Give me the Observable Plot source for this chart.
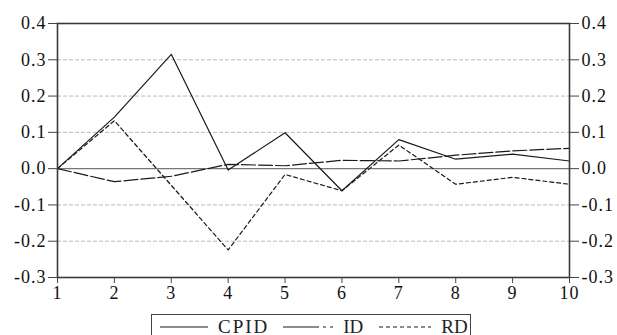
<!DOCTYPE html>
<html>
<head>
<meta charset="utf-8">
<script src="https://cdn.jsdelivr.net/npm/d3@7"></script>
<script src="https://cdn.jsdelivr.net/npm/@observablehq/plot@0.6"></script>
<style>
  body { margin: 0; background: #fff; font-family: "Liberation Serif", "Times New Roman", serif; overflow: hidden; }
  #wrap { position: relative; width: 617px; height: 335px; }
  #chart svg text { letter-spacing: 1px; }
  #legend { position: absolute; left: 151px; top: 314px; width: 320px; height: 30px;
    border: 1.5px solid #444; box-sizing: border-box; display: flex; align-items: flex-start;
    font-family: "Liberation Serif", serif; font-size: 19px; color: #222; line-height: 19px; padding-top: 1px; }
  #legend .item { display: flex; align-items: center; }
  #legend svg { display: block; }
</style>
</head>
<body>
<div id="wrap">
  <div id="chart"></div>
  <div id="legend"></div>
</div>
<script>
const periods = [1, 2, 3, 4, 5, 6, 7, 8, 9, 10];
const cpid = [0, 0.142, 0.315, -0.004, 0.099, -0.061, 0.080, 0.026, 0.040, 0.021];
const id   = [0, -0.036, -0.021, 0.012, 0.008, 0.023, 0.021, 0.037, 0.049, 0.056];
const rd   = [0, 0.132, -0.046, -0.224, -0.016, -0.061, 0.065, -0.043, -0.024, -0.043];
const seriesNames = ["CPID", "ID", "RD"];
const yTicks = [-0.3, -0.2, -0.1, 0.0, 0.1, 0.2, 0.3, 0.4];
const gridTicks = [-0.2, -0.1, 0.1, 0.2, 0.3];

const dashes = {CPID: null, ID: "14,3", RD: "4,3"};
const values = {CPID: cpid, ID: id, RD: rd};
const rows = seriesNames.flatMap(s => periods.map((p, i) => ({series: s, x: p, y: values[s][i]})));
const fmt = d => d.toFixed(1);
const FONT = "Liberation Serif, Times New Roman, serif";

const lineMarks = seriesNames.map(s => Plot.line(rows.filter(r => r.series === s), {
  x: "x", y: "y", stroke: "#1a1a1a", strokeWidth: 1.2,
  strokeDasharray: dashes[s] || undefined
}));

const axisText = {fontFamily: FONT, fontSize: 18, fill: "#111", label: null};

const chart = Plot.plot({
  width: 617, height: 313,
  marginLeft: 57, marginRight: 48, marginTop: 23, marginBottom: 36,
  style: "font-family: 'Liberation Serif', 'Times New Roman', serif; font-size: 18px; background: #fff;",
  x: {domain: [1, 10]},
  y: {domain: [-0.3, 0.4]},
  marks: [
    Plot.ruleY(gridTicks, {stroke: "#bbb", strokeWidth: 1, strokeDasharray: "4,2"}),
    Plot.ruleY([0], {stroke: "#777", strokeWidth: 1.3}),
    ...lineMarks,
    Plot.frame({stroke: "#3a3a3a", strokeWidth: 1.6}),
    Plot.axisY(yTicks, {anchor: "left", tickFormat: fmt, tickSize: 9, tickPadding: 2, stroke: "#444", ...axisText}),
    Plot.axisY(yTicks, {anchor: "right", tickFormat: fmt, tickSize: 9, tickPadding: 3, stroke: "#444", ...axisText}),
    Plot.axisX(periods, {anchor: "bottom", tickFormat: d => String(d), tickSize: 6, tickPadding: 3, stroke: "#444", ...axisText})
  ]
});
document.getElementById("chart").appendChild(chart);

// legend
const legend = d3.select("#legend");
const legendSpec = [
  {name: "CPID", dash: null, w: 48, gapL: 8, gapR: 10},
  {name: "ID", dash: "36,4,3,4", w: 50, gapL: 14, gapR: 10},
  {name: "RD", dash: "4,3", w: 52, gapL: 16, gapR: 10}
];
legendSpec.forEach(s => {
  const item = legend.append("div").attr("class", "item").style("margin-left", s.gapL + "px");
  const svg = item.append("svg").attr("width", s.w).attr("height", 20);
  svg.append("line").attr("x1", 0).attr("x2", s.w).attr("y1", 11).attr("y2", 11)
    .attr("stroke", "#1a1a1a").attr("stroke-width", 1.2)
    .attr("stroke-dasharray", s.dash);
  item.append("span").style("margin-left", s.gapR + "px").style("letter-spacing", s.name === "CPID" ? "2px" : "0px").text(s.name);
});
</script>
</body>
</html>
